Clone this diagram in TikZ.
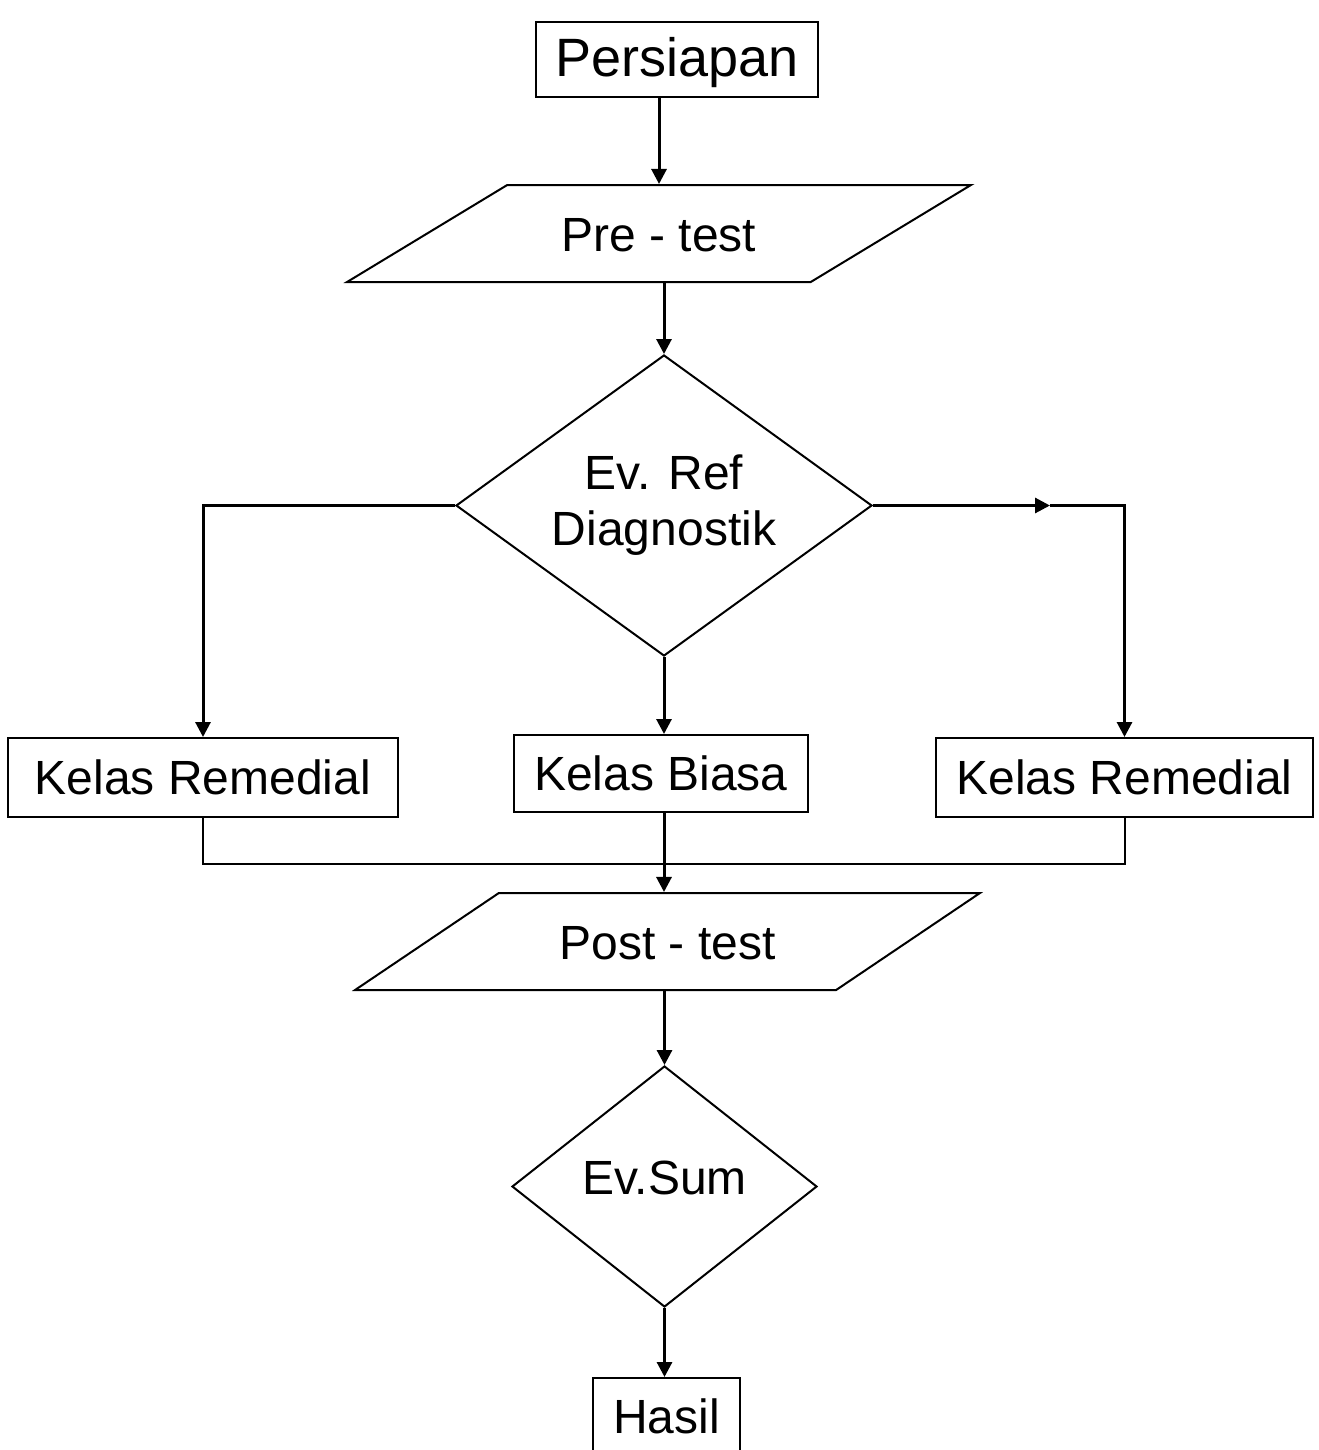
\documentclass[tikz,border=0pt]{standalone}
\usepackage{fontspec}
\setmainfont{Liberation Sans}
\usetikzlibrary{shapes.geometric,arrows.meta}

\begin{document}
\begin{tikzpicture}[x=0.5pt, y=-0.5pt, >={Triangle[length=7.5pt,width=7.5pt]},
  box/.style={draw, line width=1pt, inner sep=0pt, font=\fontsize{24}{28}\selectfont},
  io/.style 2 args={box, trapezium, trapezium left angle=#1, trapezium right angle=180-#1,
    text height=17.5pt, text depth=0pt, inner xsep=#2, inner ysep=15.5pt},
  decision/.style={box, diamond, align=center},
  flow/.style={->, line width=1.5pt},
  mergeline/.style={line width=1pt}]

\useasboundingbox (0,0) rectangle (1318,1450);

\node [box, minimum width=141pt, minimum height=37.5pt, text depth=3pt,
  font=\fontsize{27}{30}\selectfont] (persiapan) at (677,59.5) {Persiapan};

\node [io={31.2}{27.2pt}] (pretest) at (659,233.5) {Pre - test};

\node [decision, aspect=1.38, minimum width=208pt, minimum height=150.5pt]
  (evref) at (664,505.5) {Ev. Ref\\Diagnostik};

\foreach \n/\t/\x/\y/\w/\h in {kr1/Kelas Remedial/203/777.5/195/39.5,
                              kb/Kelas Biasa/661/773.5/147/38.5,
                              kr2/Kelas Remedial/1124.5/777.5/188.5/39.5}
  \node [box, minimum width=\w pt, minimum height=\h pt] (\n) at (\x,\y) {\t};

\node [io={34}{30.3pt}] (posttest) at (667.5,941.5) {Post - test};

\node [decision, aspect=1.27, minimum width=152.5pt, minimum height=120.5pt,
  text depth=9pt] (evsum) at (664.5,1186.5) {Ev.Sum};

\node [box, minimum width=73.5pt, minimum height=38pt] (hasil) at (666.5,1416) {Hasil};

\coordinate (rmid) at (1050,505.5);
\coordinate (merge) at (664,864);

\draw [flow] (pretest.north |- persiapan.south) -- (pretest.north);
\draw [flow] (evref.north |- pretest.south) -- (evref.north);
\draw [flow] (evref.west) -| (kr1.north);
\draw [flow] (evref.east) -- (rmid);
\draw [flow] (rmid) -| (kr2.north);
\draw [flow] (evref.south) -- (evref.south |- kb.north);
\draw [mergeline] (kr1.south) |- (merge) -| (kr2.south);
\draw [flow] (evref.south |- kb.south) -- (evref.south |- posttest.north);
\draw [flow] (evsum.north |- posttest.south) -- (evsum.north);
\draw [flow] (evsum.south) -- (evsum.south |- hasil.north);
\end{tikzpicture}
\end{document}
